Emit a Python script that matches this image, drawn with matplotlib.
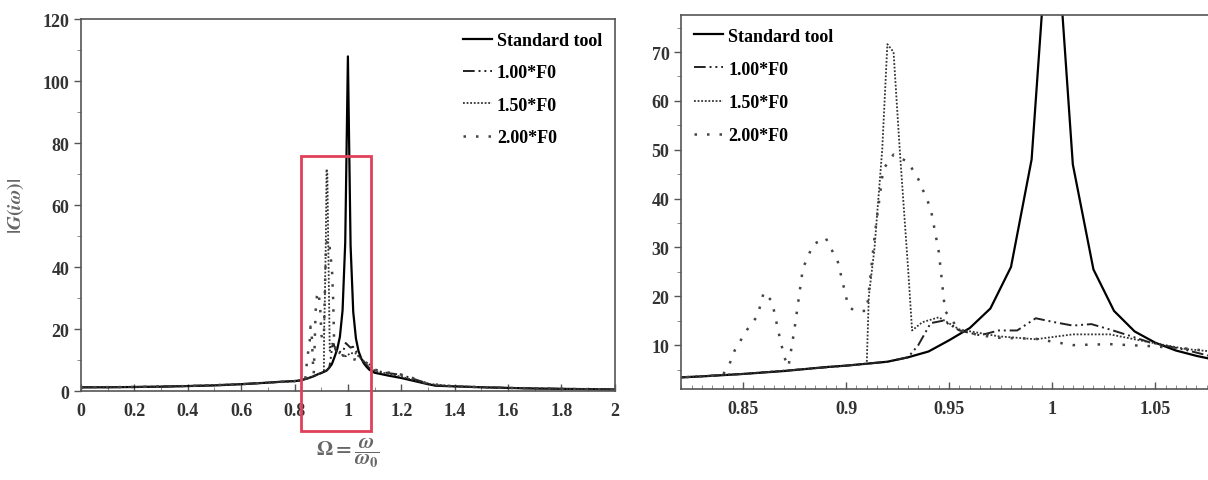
import numpy as np
import matplotlib.pyplot as plt
from matplotlib.patches import Rectangle
from matplotlib.ticker import MultipleLocator

plt.rcParams['font.family'] = ['Liberation Serif', 'DejaVu Serif']
plt.rcParams['font.weight'] = 'bold'
plt.rcParams['mathtext.fontset'] = 'stix'

# Standard tool (solid)
x_std = [0.0, 0.1, 0.2, 0.3, 0.4, 0.5, 0.6, 0.7, 0.75, 0.8,
         0.82, 0.83, 0.84, 0.85, 0.86, 0.87, 0.88, 0.89, 0.90, 0.91,
         0.92, 0.93, 0.94, 0.95, 0.96, 0.97, 0.98, 0.99, 1.00, 1.01,
         1.02, 1.03, 1.04, 1.05, 1.06, 1.07, 1.08, 1.10, 1.15, 1.20,
         1.25, 1.30, 1.33, 1.40, 1.50, 1.60, 1.70, 1.80, 1.90, 2.00]
y_std = [1.2, 1.2, 1.3, 1.4, 1.6, 1.8, 2.2, 2.7, 3.0, 3.2,
         3.4, 3.6, 3.85, 4.1, 4.4, 4.7, 5.1, 5.5, 5.8, 6.2,
         6.6, 7.5, 8.7, 11.0, 13.5, 17.5, 26.0, 48.0, 108.0, 47.0,
         25.5, 17.0, 12.8, 10.5, 8.9, 7.8, 6.9, 5.9, 5.0, 4.2,
         3.2, 2.2, 1.7, 1.5, 1.2, 1.0, 0.8, 0.7, 0.6, 0.5]

# 1.00*F0 (dash-dot-dot)
x_f100 = [0.0, 0.2, 0.4, 0.6, 0.7, 0.8, 0.82, 0.85, 0.88, 0.90,
          0.92, 0.93, 0.935, 0.941, 0.947, 0.955, 0.965, 0.974, 0.983, 0.992,
          1.001, 1.010, 1.019, 1.028, 1.037, 1.047, 1.065, 1.08, 1.10, 1.15,
          1.20, 1.25, 1.30, 1.33, 1.40, 1.60, 1.80, 2.00]
y_f100 = [1.2, 1.3, 1.6, 2.2, 2.7, 3.2, 3.4, 4.1, 5.1, 5.8,
          6.6, 7.5, 10.0, 14.5, 15.0, 13.0, 12.0, 13.0, 13.0, 15.5,
          14.7, 14.0, 14.3, 13.2, 12.0, 10.6, 9.0, 7.4, 6.6, 5.8,
          5.2, 3.8, 2.4, 1.8, 1.5, 1.0, 0.7, 0.5]

# 1.50*F0 (fine dots)
x_f150 = [0.0, 0.2, 0.4, 0.6, 0.7, 0.8, 0.82, 0.85, 0.88, 0.90,
          0.910, 0.911, 0.9137, 0.9175, 0.920, 0.923, 0.926, 0.930, 0.932, 0.937,
          0.945, 0.955, 0.974, 0.992, 1.010, 1.028, 1.047, 1.065, 1.08, 1.10,
          1.20, 1.30, 1.40, 1.60, 1.80, 2.00]
y_f150 = [1.2, 1.3, 1.6, 2.2, 2.7, 3.2, 3.4, 4.1, 5.1, 5.8,
          6.2, 20.0, 29.6, 50.0, 71.6, 70.0, 50.0, 26.0, 13.0, 14.7,
          15.7, 13.2, 11.8, 11.2, 12.2, 12.2, 10.6, 9.2, 8.6, 6.5,
          4.6, 2.3, 1.5, 1.0, 0.7, 0.5]

# 2.00*F0 (sparse dots)
x_f200 = [0.0, 0.2, 0.4, 0.6, 0.7, 0.8, 0.82, 0.84, 0.843, 0.846,
          0.852, 0.857, 0.860, 0.864, 0.867, 0.870, 0.872, 0.875, 0.879, 0.884,
          0.890, 0.896, 0.901, 0.904, 0.910, 0.914, 0.918, 0.923, 0.930, 0.935,
          0.941, 0.945, 0.948, 0.955, 0.965, 0.974, 0.992, 1.010, 1.028, 1.047,
          1.065, 1.08, 1.10, 1.15, 1.20, 1.25, 1.30, 1.40, 1.60, 1.80, 2.00]
y_f200 = [1.2, 1.3, 1.6, 2.2, 2.7, 3.2, 3.4, 3.85, 5.7, 9.0,
          13.2, 16.0, 20.8, 19.0, 13.0, 7.5, 5.6, 13.5, 25.7, 30.6,
          32.0, 27.0, 18.0, 17.0, 17.0, 33.0, 46.0, 49.0, 47.5, 44.0,
          38.0, 29.0, 17.0, 13.0, 12.0, 11.5, 11.3, 10.0, 10.2, 9.8,
          9.3, 8.6, 6.9, 6.0, 5.3, 4.0, 2.3, 1.5, 1.0, 0.7, 0.5]

labels = ['Standard tool', '1.00*F0', '1.50*F0', '2.00*F0']

fig = plt.figure(figsize=(12.08, 4.81), dpi=100)
ax1 = fig.add_axes([0.067, 0.185, 0.442, 0.773])
ax2 = fig.add_axes([0.564, 0.189, 0.4435, 0.778])


def draw(ax):
    ax.plot(x_std, y_std, color='black', lw=1.6, label=labels[0])
    ax.plot(x_f100, y_f100, color='#222222', lw=1.4,
            linestyle=(0, (6, 2, 1, 2, 1, 2)), label=labels[1])
    ax.plot(x_f150, y_f150, color='#333333', lw=1.3,
            linestyle=(0, (1, 1)), label=labels[2])
    ax.plot(x_f200, y_f200, color='#444444', lw=1.8,
            linestyle=(0, (1, 4)), label=labels[3])


for ax in (ax1, ax2):
    draw(ax)
    for s in ax.spines.values():
        s.set_color('#555555')
        s.set_linewidth(1.2)
    ax.tick_params(axis='x', direction='in', length=5, width=1, colors='#555555',
                   labelcolor='#333333', labelsize=13, pad=8)
    ax.tick_params(axis='x', which='minor', direction='in', length=3, colors='#777777')
    ax.tick_params(axis='y', direction='out', length=5, width=1, colors='#555555',
                   labelcolor='#333333', labelsize=13)
    ax.tick_params(axis='y', which='minor', direction='out', length=3, colors='#777777')
    ax.tick_params(top=False, right=False)

ax1.set_xlim(0, 2)
ax1.set_ylim(0, 120)
ax1.xaxis.set_minor_locator(MultipleLocator(0.1))
ax1.yaxis.set_major_locator(MultipleLocator(20))
ax1.yaxis.set_minor_locator(MultipleLocator(10))
ax1.set_xticks([0, 0.2, 0.4, 0.6, 0.8, 1.0, 1.2, 1.4, 1.6, 1.8, 2.0])
ax1.set_xticklabels(['0', '0.2', '0.4', '0.6', '0.8', '1', '1.2', '1.4',
                     '1.6', '1.8', '2'])
ax1.set_ylabel(r'$|G(i\omega)|$', color='#666666', fontsize=14, labelpad=12)
ax1.set_xlabel(r'$\Omega = \dfrac{\omega}{\omega_0}$', color='#666666',
               fontsize=15, labelpad=12)
ax1.legend(loc='upper right', frameon=False, fontsize=13, handlelength=1.6,
           handletextpad=0.3, labelspacing=0.85, borderaxespad=0.3)
ax1.add_patch(Rectangle((0.824, -13), 0.262, 89, fill=False,
                        edgecolor='#e0405a', lw=2, clip_on=False, zorder=5))

ax2.set_xlim(0.82, 1.08)
ax2.set_ylim(1, 77.6)
ax2.set_xticks([0.85, 0.9, 0.95, 1.0, 1.05])
ax2.set_xticklabels(['0.85', '0.9', '0.95', '1', '1.05'])
ax2.xaxis.set_minor_locator(MultipleLocator(0.005))
ax2.set_yticks([10, 20, 30, 40, 50, 60, 70])
ax2.yaxis.set_minor_locator(MultipleLocator(5))
ax2.legend(loc='upper left', frameon=False, fontsize=13, handlelength=1.6,
           handletextpad=0.3, labelspacing=0.9, borderaxespad=0.3)

fig.savefig('out.png', dpi=100)
